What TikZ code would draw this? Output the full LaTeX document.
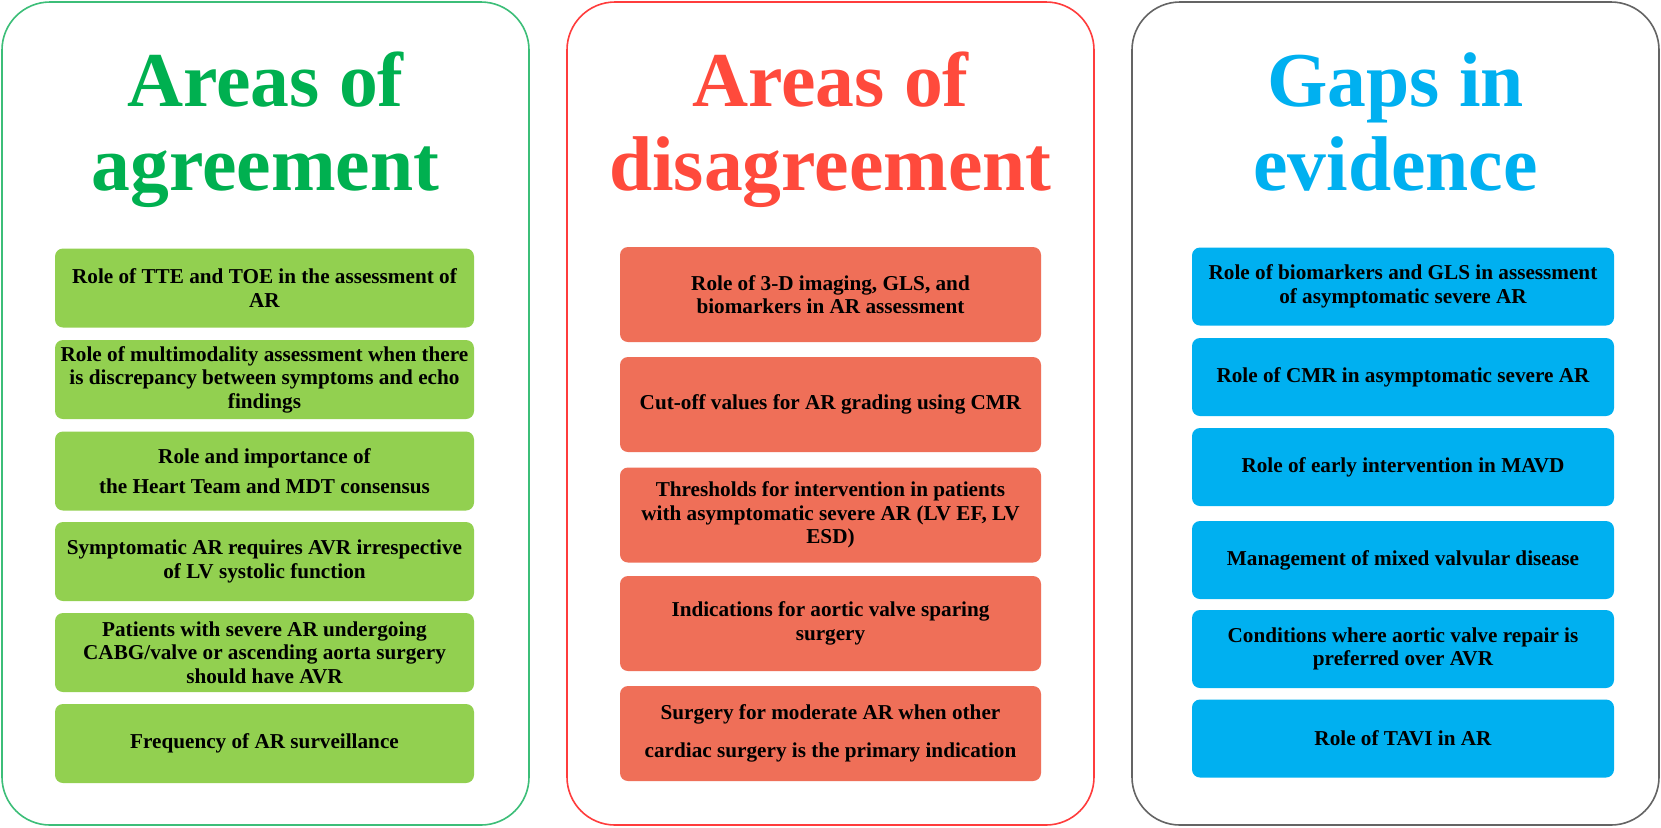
\documentclass[tikz,border=0pt]{standalone}
\usepackage{fontspec}
\setmainfont{Liberation Serif}
\definecolor{titleG}{RGB}{0,176,80}
\definecolor{boxG}{RGB}{146,208,80}
\definecolor{borderG}{RGB}{60,190,120}
\definecolor{titleR}{RGB}{255,74,60}
\definecolor{boxR}{RGB}{239,111,88}
\definecolor{borderR}{RGB}{255,60,60}
\definecolor{titleB}{RGB}{0,176,240}
\definecolor{boxB}{RGB}{0,176,240}
\definecolor{borderK}{RGB}{100,100,100}
\begin{document}
\begin{tikzpicture}[x=0.5pt,y=-0.5pt,
  panel/.style={draw, line width=0.8pt, rounded corners=24pt, fill=white, inner sep=0pt,
    minimum width=263.5pt, minimum height=411.5pt},
  ttl/.style={anchor=base, inner sep=0pt, font=\fontsize{38.8}{42}\selectfont\bfseries},
  item/.style={rounded corners=4pt, inner sep=0pt, align=center,
    font=\fontsize{10.6}{11.8}\selectfont\bfseries, text=black},
  gitem/.style={item, fill=boxG, minimum width=209.5pt, minimum height=39.5pt},
  ritem/.style={item, fill=boxR, minimum width=210.5pt, minimum height=47.5pt},
  bitem/.style={item, fill=boxB, minimum width=211pt, minimum height=39pt}
]
\useasboundingbox (0,0) rectangle (1661,827);
\fill[white] (0,0) rectangle (1661,827);

% panels
\node[panel, draw=borderG] (pG) at (265.5,413.5) {};
\node[panel, draw=borderR] (pR) at (830.5,413.5) {};
\node[panel, draw=borderK] (pB) at (1395.5,413.5) {};

% titles
\node[ttl, text=titleG] (tG1) at (265.5,106) {Areas of};
\node[ttl, text=titleG] (tG2) at (265.5,190) {agreement};
\node[ttl, text=titleR] (tR1) at (830.5,106) {Areas of};
\node[ttl, text=titleR] (tR2) at (830.5,190) {disagreement};
\node[ttl, text=titleB] (tB1) at (1395.5,106) {Gaps in};
\node[ttl, text=titleB] (tB2) at (1395.5,190) {evidence};

% green items
\node[gitem] (g1) at (264.5,288) {Role of TTE and TOE in the assessment of\\AR};
\node[gitem] (g2) at (264.5,379.5) {Role of multimodality assessment when there\\is discrepancy between symptoms and echo\\findings};
\node[gitem, font=\fontsize{10.6}{15}\selectfont\bfseries] (g3) at (264.5,471) {Role and importance of\\the Heart Team and MDT consensus};
\node[gitem] (g4) at (264.5,561.5) {Symptomatic AR requires AVR irrespective\\of LV systolic function};
\node[gitem] (g5) at (264.5,652.5) {Patients with severe AR undergoing\\CABG/valve or ascending aorta surgery\\should have AVR};
\node[gitem] (g6) at (264.5,743.5) {Frequency of AR surveillance};

% red items
\node[ritem] (r1) at (830.5,294.5) {Role of 3-D imaging, GLS, and\\biomarkers in AR assessment};
\node[ritem] (r2) at (830.5,404.5) {Cut-off values for AR grading using CMR};
\node[ritem] (r3) at (830.5,515) {Thresholds for intervention in patients\\with asymptomatic severe AR (LV EF, LV\\ESD)};
\node[ritem] (r4) at (830.5,623.5) {Indications for aortic valve sparing\\surgery};
\node[ritem, font=\fontsize{10.6}{19}\selectfont\bfseries] (r5) at (830.5,733.5) {Surgery for moderate AR when other\\cardiac surgery is the primary indication};

% blue items
\node[bitem] (b1) at (1403,286.5) {Role of biomarkers and GLS in assessment\\of asymptomatic severe AR};
\node[bitem] (b2) at (1403,377) {Role of CMR in asymptomatic severe AR};
\node[bitem] (b3) at (1403,467) {Role of early intervention in MAVD};
\node[bitem] (b4) at (1403,560) {Management of mixed valvular disease};
\node[bitem] (b5) at (1403,649) {Conditions where aortic valve repair is\\preferred over AVR};
\node[bitem] (b6) at (1403,738.5) {Role of TAVI in AR};
\end{tikzpicture}
\end{document}
